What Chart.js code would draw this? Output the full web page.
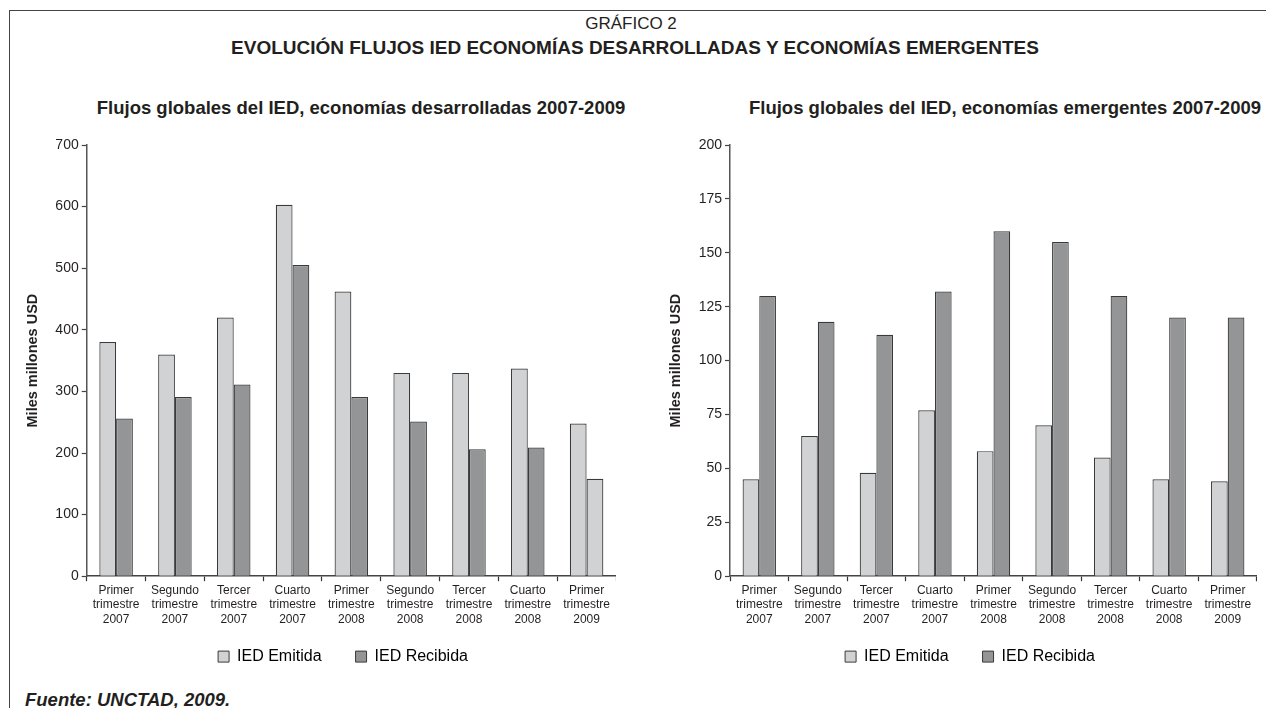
<!DOCTYPE html>
<html lang="es">
<head>
<meta charset="utf-8">
<title>Evolución flujos IED</title>
<script src="https://cdn.jsdelivr.net/npm/chart.js@4.4.1/dist/chart.umd.min.js"></script>
<style>
    html, body {
        margin: 0;
        padding: 0;
        background: #fff;
    }
    body {
        width: 1266px;
        height: 708px;
        position: relative;
        overflow: hidden;
        font-family: "Liberation Sans", Arial, sans-serif;
        color: #231f20;
    }
    .frame-top {
        position: absolute;
        left: 9px;
        top: 10px;
        right: 0;
        border-top: 1.5px solid #444;
    }
    .frame-left {
        position: absolute;
        left: 9px;
        top: 10px;
        bottom: 0;
        border-left: 1.5px solid #444;
    }
    .text {
        position: absolute;
        white-space: nowrap;
        transform: translate(-50%, -50%);
    }
    .inner-label {
        font-size: 17px;
        top: 24px;
        left: 631px;
    }
    .inner-title {
        font-size: 19px;
        font-weight: bold;
        top: 48px;
        left: 635px;
    }
    .inner-subtitle {
        font-size: 18.5px;
        font-weight: bold;
        top: 108px;
    }
    .inner-source {
        position: absolute;
        left: 25px;
        top: 689px;
        font-size: 18.5px;
        font-weight: bold;
        font-style: italic;
    }
    .chart-box {
        position: absolute;
        top: 130px;
        height: 558.4px;
    }
</style>
</head>
<body>
<div class="frame-top"></div>
<div class="frame-left"></div>

<div class="text inner-label">GRÁFICO 2</div>
<div class="text inner-title">EVOLUCIÓN FLUJOS IED ECONOMÍAS DESARROLLADAS Y ECONOMÍAS EMERGENTES</div>
<div class="text inner-subtitle" style="left: 361px;">Flujos globales del IED, economías desarrolladas 2007-2009</div>
<div class="text inner-subtitle" style="left: 1005px;">Flujos globales del IED, economías emergentes 2007-2009</div>

<div class="chart-box" style="left: 18px; width: 598px;"><canvas id="chart1"></canvas></div>
<div class="chart-box" style="left: 640px; width: 617px;"><canvas id="chart2"></canvas></div>

<div class="inner-source">Fuente: UNCTAD, 2009.</div>

<script>
// Trimestres (etiquetas en tres líneas)
const quarters = [
    ["Primer", "trimestre", "2007"],
    ["Segundo", "trimestre", "2007"],
    ["Tercer", "trimestre", "2007"],
    ["Cuarto", "trimestre", "2007"],
    ["Primer", "trimestre", "2008"],
    ["Segundo", "trimestre", "2008"],
    ["Tercer", "trimestre", "2008"],
    ["Cuarto", "trimestre", "2008"],
    ["Primer", "trimestre", "2009"]
];

// Economías desarrolladas (miles de millones USD)
const developedEmitida = [380, 360, 420, 603, 462, 330, 330, 337, 248];
const developedRecibida = [256, 291, 311, 505, 291, 251, 206, 209, 158];

// Economías emergentes (miles de millones USD)
const emergingEmitida = [45, 65, 48, 77, 58, 70, 55, 45, 44];
const emergingRecibida = [130, 118, 112, 132, 160, 155, 130, 120, 120];

// Ejes Y
const developedTicks = [0, 100, 200, 300, 400, 500, 600, 700];
const emergingTicks = [0, 25, 50, 75, 100, 125, 150, 175, 200];

const colorLight = "#d1d2d4";
const colorDark = "#949597";
const colorBorder = "#3a3a3a";
const textColor = "#231f20";
const fontFamily = "'Liberation Sans', Arial, sans-serif";

Chart.defaults.font.family = fontFamily;
Chart.defaults.color = textColor;

// mueve la leyenda después del layout sin tocar el área del gráfico
const legendShift = {
    id: 'legendShift',
    afterLayout(chart, args, opts) {
        const legend = chart.legend;
        if (!legend) return;
        legend.left += opts.dx;
        legend.right += opts.dx;
        legend.top += opts.dy;
        legend.bottom += opts.dy;
    }
};

const buildChart = (canvas, emitida, recibida, ticks, setup) => {
    const maxValue = ticks[ticks.length - 1];
    const step = ticks[1] - ticks[0];
    return new Chart(canvas, {
        type: 'bar',
        data: {
            labels: quarters,
            datasets: [
                {
                    label: "IED Emitida",
                    data: emitida,
                    backgroundColor: colorLight,
                    borderColor: colorBorder,
                    borderWidth: 1.2
                },
                {
                    label: "IED Recibida",
                    data: recibida,
                    // en la serie desarrollada el último trimestre sale en gris claro
                    backgroundColor: (ctx) => (setup.lastRecibidaLight && ctx.dataIndex === recibida.length - 1) ? colorLight : colorDark,
                    borderColor: colorBorder,
                    borderWidth: 1.2
                }
            ]
        },
        plugins: [legendShift],
        options: {
            responsive: true,
            maintainAspectRatio: false,
            animation: false,
            categoryPercentage: 0.57,
            barPercentage: 1,
            layout: {
                padding: { top: 15, right: 0, bottom: 0, left: 0 }
            },
            plugins: {
                legendShift: { dx: setup.legendDx, dy: -13.8 },
                legend: {
                    position: 'bottom',
                    labels: {
                        boxWidth: 11,
                        boxHeight: 11,
                        padding: 34,
                        color: textColor,
                        font: { size: 16 },
                        generateLabels: (chart) => chart.data.datasets.map((ds, i) => ({
                            text: ds.label,
                            fillStyle: i === 0 ? colorLight : colorDark,
                            strokeStyle: colorBorder,
                            lineWidth: 1,
                            datasetIndex: i
                        }))
                    }
                },
                tooltip: { enabled: false }
            },
            scales: {
                x: {
                    grid: {
                        offset: true,
                        drawOnChartArea: false,
                        tickLength: 5,
                        color: "#333",
                        tickWidth: 1.2
                    },
                    border: { color: "#444", width: 1.5 },
                    ticks: {
                        padding: 2,
                        maxRotation: 0,
                        autoSkip: false,
                        font: { size: 12, lineHeight: 1.2 },
                        color: textColor
                    }
                },
                y: {
                    min: 0,
                    max: maxValue,
                    grid: {
                        drawOnChartArea: false,
                        tickLength: 5,
                        color: "#444",
                        tickWidth: 1.2
                    },
                    border: { color: "#555", width: 1.5 },
                    ticks: {
                        stepSize: step,
                        padding: 3,
                        font: { size: 14 },
                        color: textColor
                    },
                    title: {
                        display: true,
                        text: "Miles millones USD",
                        font: { size: 14.5, weight: 'bold' },
                        color: textColor,
                        padding: { top: setup.titlePad, bottom: 0 }
                    },
                    afterFit: (scale) => {
                        scale.width = setup.axisWidth;
                    }
                }
            }
        }
    });
};

// Chart 1
const chart1 = document.querySelector("#chart1");
if (chart1) {
    buildChart(chart1, developedEmitida, developedRecibida, developedTicks, {
        axisWidth: 68.7, titlePad: 6.3, legendDx: 26, lastRecibidaLight: true
    });
}

// Chart 2
const chart2 = document.querySelector("#chart2");
if (chart2) {
    buildChart(chart2, emergingEmitida, emergingRecibida, emergingTicks, {
        axisWidth: 90, titlePad: 27.3, legendDx: 21.5, lastRecibidaLight: false
    });
}
</script>
</body>
</html>
